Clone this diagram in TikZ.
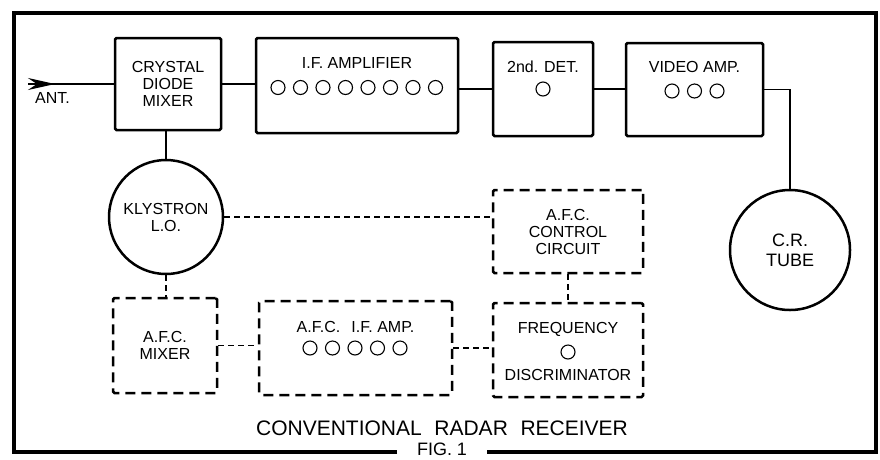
\documentclass[tikz,border=0pt]{standalone}
\usepackage{fontspec}
\setmainfont{Liberation Sans}
\usetikzlibrary{arrows.meta}
\tikzset{
  block/.style={draw, line width=2.5pt, rounded corners=1.5pt, inner sep=0pt},
  afcblock/.style={block, dash pattern=on 10pt off 6pt},
  lbl/.style={font=\fontsize{16}{17}\selectfont, align=center, inner sep=0pt},
  wire/.style={line width=1.5pt},
  afcwire/.style={line width=1.5pt, dash pattern=on 6pt off 4pt},
  tube/.style={line width=1.1pt}
}

\begin{document}
\begin{tikzpicture}[x=1pt, y=-1pt]
        \useasboundingbox (0,0) rectangle (880,459);

        % Rahmen
        \draw[line width=3.2pt] (397,452) -- (14,452) -- (14,13) -- (876,13) -- (876,452) -- (487,452);
        \node[font=\fontsize{18}{18}\selectfont, anchor=north, inner sep=0pt] (fig) at (442,443) {FIG. 1};
        \node[font=\fontsize{21}{24}\selectfont, inner sep=0pt] (title) at (442,428)
            {CONVENTIONAL\hspace{0.6em}RADAR\hspace{0.6em}RECEIVER};

        % Empfangskette
        \node[block, lbl, minimum width=106pt, minimum height=92pt] (mixer) at (168,84) {CRYSTAL\\DIODE\\MIXER};
        \node[block, minimum width=202pt, minimum height=95pt] (ifamp) at (357,85.5) {};
        \node[lbl] (iftxt) at (357,63) {I.F. AMPLIFIER};
        \foreach \i in {0,...,7}
            \draw[tube] (278+22.5*\i, 87.5) circle (7pt);

        \node[block, minimum width=100pt, minimum height=94pt] (det) at (543,89) {};
        \node[lbl] (dettxt) at (543,67) {2nd. DET.};
        \draw[tube] (543,89) circle (7pt);

        \node[block, minimum width=137pt, minimum height=93pt] (video) at (694.5,89.5) {};
        \node[lbl] (videotxt) at (694.5,67) {VIDEO AMP.};
        \foreach \i in {0,...,2}
            \draw[tube] (672+22.5*\i, 91) circle (7pt);

        \node[block, circle, lbl, minimum size=114pt] (klystron) at (166,217) {KLYSTRON\\L.O.};
        \node[block, circle, align=center, inner sep=0pt, font=\fontsize{18}{20}\selectfont,
              minimum size=120pt] (crt) at (790,250) {C.R.\\TUBE};

        % AFC-Zweig
        \node[afcblock, lbl, minimum width=150pt, minimum height=83pt] (afcctl) at (568,231.5) {A.F.C.\\CONTROL\\CIRCUIT};
        \node[afcblock, minimum width=150pt, minimum height=94pt] (discr) at (568,350) {};
        \node[lbl] (freqtxt) at (568,329) {FREQUENCY};
        \draw[tube] (568,352) circle (7pt);
        \node[lbl] (disctxt) at (568,375) {DISCRIMINATOR};

        \node[afcblock, lbl, minimum width=104pt, minimum height=95pt] (afcmix) at (165,345.5) {A.F.C.\\MIXER};
        \node[afcblock, minimum width=193pt, minimum height=94pt] (afcif) at (355.5,348) {};
        \node[lbl] (afciftxt) at (355.5,327) {A.F.C.\hspace{0.7em}I.F. AMP.};
        \foreach \i in {0,...,4}
            \draw[tube] (310+22.5*\i, 348) circle (7pt);

        % Antenne
        \coordinate (antin) at (28,84);
        \coordinate (anttip) at (55,84);
        \draw[wire] (antin) -- (mixer.west);
        \draw[wire, -{Stealth[length=27pt, width=12pt, inset=9pt]}] (antin) -- (anttip);
        \node[lbl, anchor=west] (ant) at (35,98) {ANT.};

        % Verbindungen
        \draw[wire] (mixer.east) -- (mixer.east -| ifamp.west);
        \draw[wire] (det.west -| ifamp.east) -- (det.west);
        \draw[wire] (det.east) -- (det.east -| video.west);
        \draw[wire] (video.east) -| (crt.north);
        \draw[wire] (klystron.north |- mixer.south) -- (klystron.north);

        \draw[afcwire] (klystron.east) -- (klystron.east -| afcctl.west);
        \draw[afcwire] (klystron.south) -- (klystron.south |- afcmix.north);
        \draw[afcwire] (afcctl.south) -- (discr.north);
        \draw[afcwire] (afcmix.east) -- (afcmix.east -| afcif.west);
        \draw[afcwire] (afcif.east) -- (afcif.east -| discr.west);
    \end{tikzpicture}
\end{document}
